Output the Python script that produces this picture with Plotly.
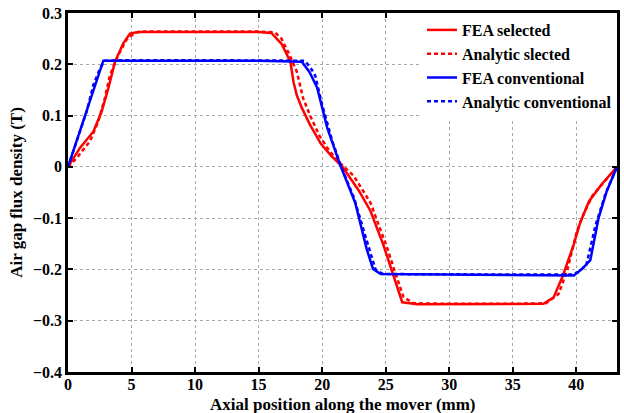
import plotly.graph_objects as go

# FEA selected (red solid)
fea_sel_x = [0, 0.94, 2.0, 2.65, 3.17, 3.7, 4.35, 4.88, 5.5, 10, 15, 16.0, 16.8, 17.5, 17.75, 18.0, 18.4,
             19.05, 19.9, 20.7, 21.6, 22.9, 23.8, 24.8, 25.5, 26.3, 27.5, 30, 35, 37.4, 38.2, 38.9,
             39.8, 40.3, 41.0, 42.0, 43.2]
fea_sel_y = [0, 0.037, 0.069, 0.108, 0.153, 0.205, 0.241, 0.26, 0.263, 0.263, 0.263, 0.261, 0.24, 0.205,
             0.165, 0.14, 0.115, 0.082, 0.045, 0.022, 0.0, -0.047, -0.086, -0.151, -0.203, -0.264,
             -0.268, -0.268, -0.268, -0.267, -0.255, -0.215, -0.151, -0.109, -0.067, -0.034, 0]

# Analytic selected (red dashed)
ana_sel_x = [0, 0.68, 1.73, 2.39, 2.9, 3.3, 3.9, 4.6, 5.3, 6, 10, 15, 16.3, 16.8, 17.4, 18.0, 18.5,
             19.05, 19.8, 20.6, 21.5, 22.5, 23.8, 25.1, 25.8, 26.4, 27.2, 30, 35, 37.6, 38.6, 39.3,
             40.05, 40.6, 41.3, 42.2, 43.2]
ana_sel_y = [0, 0.017, 0.05, 0.089, 0.134, 0.179, 0.215, 0.248, 0.262, 0.264, 0.264, 0.264, 0.262, 0.25,
             0.22, 0.186, 0.134, 0.1, 0.06, 0.03, 0.005, -0.018, -0.07, -0.157, -0.21, -0.254, -0.266,
             -0.267, -0.267, -0.266, -0.248, -0.2, -0.125, -0.09, -0.055, -0.028, 0]

# FEA conventional (blue solid)
fea_con_x = [0, 2.78, 5, 10, 15, 18.4, 19.0, 19.6, 20.4, 21.4, 22.6, 23.5, 24.0, 24.6, 30, 35, 39.8,
             40.5, 41.1, 41.76, 42.4, 43.2]
fea_con_y = [0, 0.207, 0.207, 0.207, 0.207, 0.205, 0.185, 0.155, 0.076, 0.005, -0.07, -0.16, -0.199,
             -0.209, -0.21, -0.21, -0.212, -0.198, -0.182, -0.099, -0.047, 0]

# Analytic conventional (blue dashed)
ana_con_x = [0, 0.94, 1.47, 2.0, 2.52, 2.9, 5, 10, 15, 18.6, 19.05, 19.45, 20.0, 20.8, 21.5, 22.5,
             23.4, 24.2, 24.8, 30, 35, 39.6, 40.2, 40.8, 41.5, 42.3, 43.2]
ana_con_y = [0, 0.069, 0.108, 0.16, 0.192, 0.207, 0.208, 0.208, 0.208, 0.207, 0.195, 0.178, 0.121,
             0.05, 0.0, -0.06, -0.135, -0.2, -0.209, -0.21, -0.21, -0.21, -0.205, -0.19, -0.115,
             -0.052, 0]

x_ticks = [0, 5, 10, 15, 20, 25, 30, 35, 40]
y_ticks = [-0.4, -0.3, -0.2, -0.1, 0, 0.1, 0.2, 0.3]
y_labels = ["\u22120.4", "\u22120.3", "\u22120.2", "\u22120.1", "0", "0.1", "0.2", "0.3"]

RED = "#ff0000"
BLUE = "#0000ff"
FONT = "Liberation Serif"

fig = go.Figure()
fig.add_trace(go.Scatter(x=fea_sel_x, y=fea_sel_y, mode="lines", name="FEA selected",
                         line=dict(color=RED, width=2.5)))
fig.add_trace(go.Scatter(x=ana_sel_x, y=ana_sel_y, mode="lines", name="Analytic slected",
                         line=dict(color=RED, width=2.5, dash="4px,3px")))
fig.add_trace(go.Scatter(x=fea_con_x, y=fea_con_y, mode="lines", name="FEA conventional",
                         line=dict(color=BLUE, width=2.5)))
fig.add_trace(go.Scatter(x=ana_con_x, y=ana_con_y, mode="lines", name="Analytic conventional",
                         line=dict(color=BLUE, width=2.5, dash="4px,3px")))

axis_common = dict(
    showline=True, linecolor="black", linewidth=2.5, mirror="ticks",
    ticks="inside", ticklen=5, tickwidth=1.5, tickcolor="black",
    showgrid=True, gridcolor="#a8a8a8", griddash="dot", gridwidth=1,
    zeroline=False,
    tickfont=dict(family=FONT, size=16, color="black", weight="bold"),
)

fig.update_xaxes(range=[0, 43.2], tickvals=x_ticks, ticktext=[str(v) for v in x_ticks],
                 ticklabelstandoff=-4, **axis_common)
fig.update_yaxes(range=[-0.4, 0.3], tickvals=y_ticks, ticktext=y_labels,
                 title=dict(text="Air gap flux density (T)", standoff=6,
                            font=dict(family=FONT, size=17, color="black", weight="bold")),
                 **axis_common)

fig.add_annotation(text="Axial position along the mover (mm)", xref="paper", yref="paper",
                   x=0.5, y=0, xanchor="center", yanchor="bottom", yshift=-43,
                   showarrow=False, borderpad=0,
                   font=dict(family=FONT, size=17, color="black", weight="bold"))

fig.update_layout(
    width=624, height=413,
    margin=dict(l=68, r=7, t=13, b=41, autoexpand=False),
    plot_bgcolor="white", paper_bgcolor="white",
    showlegend=True,
    legend=dict(x=1, y=1, xanchor="right", yanchor="top", bgcolor="white",
                borderwidth=0, tracegroupgap=0, itemwidth=30,
                font=dict(family=FONT, size=16, color="black", weight="bold")),
)

fig.write_html("out.html")
